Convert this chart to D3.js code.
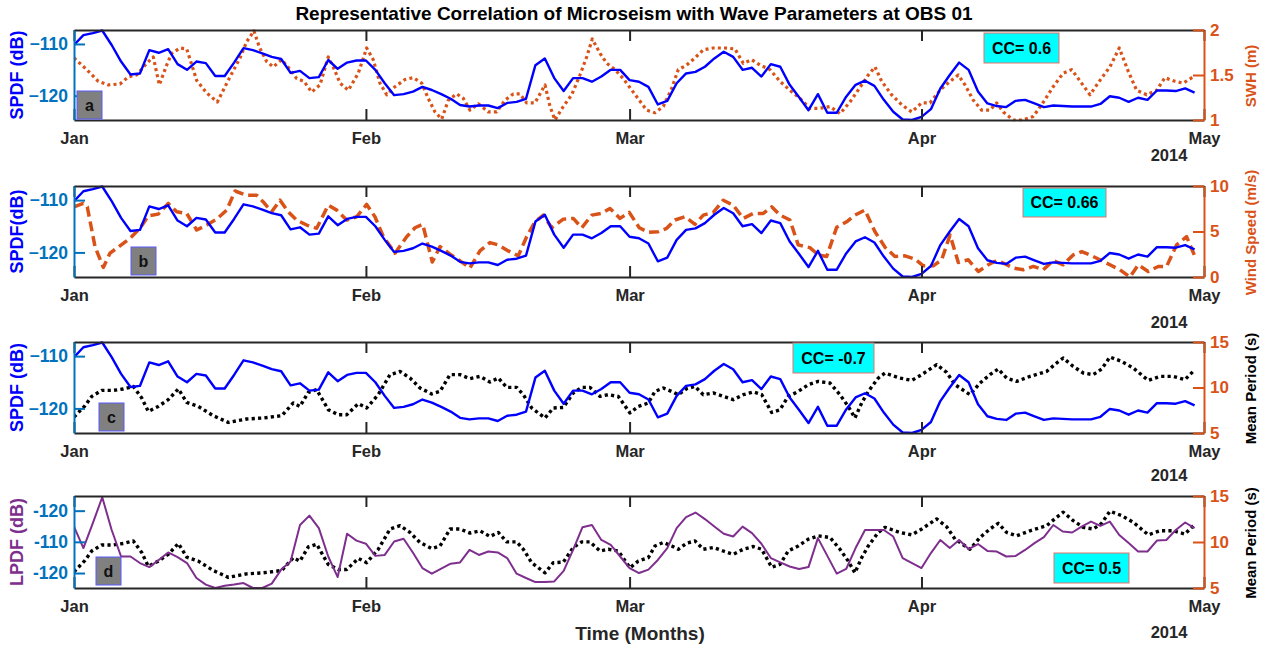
<!DOCTYPE html>
<html><head><meta charset="utf-8">
<script src="https://cdn.jsdelivr.net/npm/d3@7"></script>
<style>
body{margin:0;background:#fff;}
svg{font-family:"Liberation Sans",Arial,Helvetica,sans-serif;}
</style>
</head><body>
<svg id="chart" width="1267" height="650"></svg>
<script>
// ---------- DATA ----------
const monthLabels = ["Jan","Feb","Mar","Apr","May"];
const monthDays = [0, 31, 59, 90, 120];      // days since 1 Jan 2014
const yearLabel = "2014";

// SPDF (dB), daily, day 0..119
const spdf = [
 -110.2,-108.3,-107.9,-107.4,-110.2,-113.4,-115.9,-115.7,-111.2,-111.7,
 -111.0,-113.9,-115.0,-113.4,-113.7,-116.2,-116.2,-113.6,-110.8,-111.2,
 -111.8,-112.5,-112.9,-115.6,-115.2,-116.6,-116.4,-113.1,-114.8,-113.6,
 -113.2,-113.2,-115.0,-117.6,-119.9,-119.7,-119.2,-118.3,-118.9,-119.7,
 -120.6,-121.8,-122.1,-121.9,-121.9,-122.4,-121.4,-121.2,-120.6,-114.1,
 -112.8,-116.6,-119.1,-116.6,-116.6,-117.3,-116.3,-115.0,-115.0,-117.0,
 -117.3,-118.3,-121.7,-121.0,-117.6,-115.7,-115.4,-114.4,-112.8,-111.5,
 -112.5,-115.0,-114.6,-116.3,-113.9,-114.4,-117.9,-120.3,-122.8,-119.7,
 -123.3,-123.3,-120.2,-117.9,-117.1,-118.1,-120.8,-123.1,-124.6,-124.7,
 -124.1,-122.6,-118.6,-116.0,-113.6,-115.0,-119.2,-121.5,-122.0,-122.2,
 -121.0,-120.8,-121.5,-122.2,-121.9,-122.0,-122.1,-122.1,-122.1,-121.6,
 -120.1,-120.4,-121.2,-120.4,-120.8,-119.0,-119.0,-119.1,-118.6,-119.4
];

// LPDF (dB), daily, day 0..119
const lpdf = [
 -105.1,-112.0,-104.0,-95.7,-106.2,-114.7,-114.7,-116.8,-118.1,-115.8,
 -113.4,-114.9,-116.8,-121.6,-123.7,-124.8,-124.1,-123.7,-123.2,-124.8,
 -124.8,-123.4,-118.9,-116.3,-104.6,-101.6,-105.6,-114.7,-121.3,-107.4,
 -109.6,-110.6,-114.5,-114.2,-109.9,-109.0,-113.5,-118.4,-120.2,-118.6,
 -117.0,-116.6,-112.6,-114.2,-113.1,-113.4,-115.2,-120.2,-121.6,-122.9,
 -122.9,-122.7,-119.3,-112.6,-105.3,-104.6,-109.4,-111.0,-114.7,-118.4,
 -120.0,-118.9,-115.8,-112.0,-105.6,-102.1,-100.6,-102.7,-105.1,-107.4,
 -108.3,-105.1,-107.2,-110.6,-115.2,-116.6,-117.9,-118.7,-118.1,-108.8,
 -114.5,-120.2,-118.7,-112.0,-106.2,-106.2,-106.2,-108.3,-115.2,-116.8,
 -118.4,-113.6,-109.4,-112.0,-109.4,-112.3,-110.7,-112.9,-113.1,-114.7,
 -114.5,-112.6,-110.4,-108.5,-104.6,-106.7,-107.0,-105.1,-103.5,-104.9,
 -103.5,-107.8,-110.4,-113.1,-113.1,-109.6,-109.4,-106.2,-103.8,-105.6
];

// Significant wave height (m)
const swhDay = [0,1.35,2.58,3.64,4.88,5.77,6.66,7.72,8.42,9.06,9.84,10.37,11.26,11.97,13.03,14.09,15.22,16.57,17.63,18.34,19.11,19.68,20.46,21.16,22.06,22.94,23.65,24.42,25.24,26.12,27.0,27.53,28.25,29.13,30.19,31.08,31.78,32.49,33.21,34.09,35.15,36.03,36.92,37.62,38.33,39.05,39.75,40.64,41.34,42.05,42.93,44.0,44.89,45.77,46.65,47.36,48.07,48.95,50.02,50.55,51.08,51.96,52.85,53.73,54.44,55.04,55.86,56.57,57.45,58.33,59.39,60.81,61.7,62.58,63.47,64.17,65.06,65.94,66.83,67.89,69.13,70.19,71.07,71.97,72.85,73.91,74.97,76.03,77.09,78.15,79.22,80.28,81.34,82.4,83.65,84.35,85.06,85.77,86.83,87.89,88.96,90.02,90.9,91.96,93.03,93.91,94.62,95.5,96.39,97.27,97.98,98.68,99.74,100.81,101.87,102.76,103.99,105.05,105.95,106.65,107.89,108.95,110.01,111.0,111.96,112.85,113.91,114.97,115.85,116.91,117.8,118.86];
const swhVal = [1.69,1.56,1.43,1.39,1.40,1.48,1.50,1.63,1.70,1.39,1.61,1.74,1.80,1.79,1.44,1.30,1.20,1.48,1.69,1.87,1.99,1.81,1.65,1.59,1.67,1.56,1.46,1.43,1.31,1.39,1.70,1.59,1.41,1.33,1.52,1.80,1.67,1.41,1.28,1.37,1.45,1.47,1.41,1.24,1.09,1.01,1.22,1.29,1.24,1.11,1.18,1.09,1.09,1.22,1.29,1.29,1.19,1.19,1.39,1.15,1.00,1.15,1.28,1.50,1.70,1.90,1.74,1.63,1.56,1.46,1.31,1.11,1.08,1.15,1.35,1.56,1.61,1.69,1.78,1.80,1.80,1.79,1.63,1.67,1.61,1.56,1.43,1.33,1.24,1.13,1.13,1.15,1.07,1.20,1.39,1.50,1.59,1.43,1.28,1.17,1.09,1.19,1.19,1.33,1.43,1.50,1.39,1.22,1.11,1.11,1.19,1.09,1.00,1.00,1.04,1.17,1.37,1.52,1.56,1.46,1.28,1.44,1.59,1.80,1.54,1.33,1.28,1.33,1.47,1.43,1.41,1.48];

// Wind speed (m/s)
const windDay = [0,0.99,1.41,2.23,3.11,3.82,4.88,5.95,7.01,7.89,8.95,10.01,10.91,11.97,13.03,14.09,15.15,16.22,17.1,18.34,19.4,20.1,20.99,21.88,22.76,23.65,24.71,25.77,27.0,27.9,28.96,30.02,31.08,31.96,32.85,34.09,35.33,36.21,37.03,38.05,38.87,39.93,40.99,42.05,43.11,44.17,45.06,46.12,47.18,48.07,48.95,49.84,50.73,51.96,53.02,53.92,54.98,56.04,56.92,57.98,58.97,60.03,60.99,62.05,62.94,63.82,64.89,65.95,66.83,67.89,68.95,70.01,71.07,72.14,73.2,74.09,74.97,76.03,76.91,78.15,79.04,79.93,80.99,82.05,82.93,83.99,85.06,86.12,87.18,88.24,89.3,90.19,91.25,92.14,93.03,93.91,94.97,96.03,97.09,97.98,98.86,99.74,100.81,101.87,102.93,103.99,105.05,106.11,107.01,107.89,108.95,110.01,111.07,112.13,113.02,114.08,115.14,116.03,117.09,118.15,119.04];
const windVal = [7.71,8.08,7.71,3.34,1.05,2.62,3.42,4.26,5.35,6.72,6.91,8.08,7.16,6.99,5.16,5.71,6.36,7.35,9.45,8.98,8.98,8.25,7.16,8.44,7.16,6.26,5.71,5.35,7.89,7.35,6.26,6.62,7.97,6.62,4.43,2.62,4.43,5.41,5.79,1.64,3.34,2.51,1.78,0.98,2.87,3.78,3.53,2.87,2.33,4.43,6.07,6.80,5.41,6.36,6.44,5.41,6.80,6.99,7.53,6.44,7.10,5.41,4.91,4.98,5.35,6.26,6.62,5.79,6.80,7.10,8.44,7.89,6.44,6.99,6.99,7.71,6.80,6.26,3.53,3.23,2.43,2.25,5.46,6.07,6.80,7.35,4.98,3.28,2.25,2.33,1.97,1.23,1.23,1.89,4.62,1.59,1.89,0.61,1.34,1.81,1.45,0.98,0.80,1.16,0.80,1.81,1.34,2.43,2.79,2.43,1.89,1.34,0.80,0.00,1.34,0.61,1.16,1.16,3.53,4.43,2.25];

// Mean wave period (s)
const periodDay = [0,1.17,1.88,2.94,4.17,5.24,6.3,7.19,7.89,8.95,10.01,11.08,11.97,13.2,14.79,16.39,18.34,20.1,22.06,23.29,24.0,24.88,25.77,27.0,28.07,28.96,30.19,31.08,32.31,33.56,34.62,35.68,36.74,37.98,38.87,39.93,40.99,42.05,43.11,44.17,45.06,45.95,47.01,47.72,48.6,50.02,50.9,51.96,53.02,53.92,54.8,55.86,56.74,57.8,59.04,59.92,60.99,61.7,62.58,63.47,64.17,65.06,65.94,66.83,67.89,68.95,70.01,71.07,72.14,73.03,74.09,74.97,75.85,76.91,77.98,79.04,80.28,81.34,82.22,82.93,83.65,84.35,85.41,86.12,87.71,88.96,90.02,91.61,92.67,93.56,95.15,96.21,97.27,98.15,99.04,100.1,101.52,103.29,104.35,105.05,106.11,107.18,108.24,109.13,110.01,111.25,112.49,114.08,115.32,116.73,117.97,119.04];
const periodVal = [6.76,8.0,9.02,9.68,9.68,9.84,10.12,8.85,7.37,7.92,8.66,9.84,8.36,7.92,6.90,6.16,6.54,6.65,6.90,8.30,7.92,9.46,9.76,7.56,7.01,7.01,8.22,7.75,9.21,11.41,11.77,11.04,9.95,9.29,9.57,11.41,11.41,10.97,11.22,10.6,11.04,10.01,10.01,9.21,7.75,6.65,7.75,7.81,9.40,10.01,10.01,9.02,9.21,9.02,7.20,7.92,8.30,9.57,9.95,9.57,9.21,9.87,10.12,9.21,9.40,9.02,8.66,9.21,9.51,9.21,7.26,7.56,9.02,9.57,10.31,10.67,10.49,9.21,7.92,6.65,8.30,9.57,11.04,11.59,11.04,10.78,11.41,12.51,11.66,10.31,9.21,10.49,11.41,12.03,11.04,10.67,11.22,11.77,12.69,13.24,12.32,11.59,11.41,12.03,13.35,12.87,12.14,10.78,11.22,11.22,10.86,11.96];

// Axis ticks / labels
const spdfTicks = [-120, -110];
const lpdfTicks = [-120, -110, -100];
const lpdfTickLabels = ["-120", "-110", "-120"];
const swhTicks = [1, 1.5, 2];
const windTicks = [0, 5, 10];
const periodTicks = [5, 10, 15];
const ccLabels = ["CC= 0.6", "CC= 0.66", "CC= -0.7", "CC= 0.5"];
const panelLetters = ["a", "b", "c", "d"];

// ---------- LAYOUT ----------
const xL = 74, xR = 1204;
const C = {blue:"#0000FF", axBlue:"#0072BD", orange:"#D95319", purple:"#7E2F8E", dark:"#262626"};
const FONT = '"Liberation Sans",Arial,sans-serif';

const days = d3.range(spdf.length);
const panels = [
  {top:30, bottom:120, left:{vals:spdf, days:days, dom:[-124.7,-107.3], color:C.blue, label:"SPDF (dB)", ticks:spdfTicks},
   right:{days:swhDay, vals:swhVal, dom:[1,2], ticks:swhTicks, label:"SWH (m)", labelColor:C.orange,
          color:C.orange, dash:"3,3.2", width:3.2},
   letterX:77, cc:{x:984,y:33,w:75,h:30}, yearY:155},
  {top:186, bottom:277, left:{vals:spdf, days:days, dom:[-124.7,-107.3], color:C.blue, label:"SPDF(dB)", ticks:spdfTicks},
   right:{days:windDay, vals:windVal, dom:[0,10], ticks:windTicks, label:"Wind Speed (m/s)", labelColor:C.orange,
          color:C.orange, dash:"10,5", width:3.5},
   letterX:131, cc:{x:1023,y:188,w:83,h:29}, yearY:322},
  {top:342, bottom:433, left:{vals:spdf, days:days, dom:[-124.7,-107.3], color:C.blue, label:"SPDF (dB)", ticks:spdfTicks},
   right:{days:periodDay, vals:periodVal, dom:[5,15], ticks:periodTicks, label:"Mean Period (s)", labelColor:"#000",
          color:"#000", dash:"3.2,3.2", width:3.4},
   letterX:99, cc:{x:793,y:343,w:81,h:30}, yearY:475},
  {top:496, bottom:588, left:{vals:lpdf, days:days, dom:[-124.8,-95.3], color:C.purple, label:"LPDF (dB)", ticks:lpdfTicks, tickLabels:lpdfTickLabels, lineW:2},
   right:{days:periodDay, vals:periodVal, dom:[5,15], ticks:periodTicks, label:"Mean Period (s)", labelColor:"#000",
          color:"#000", dash:"3.2,3.2", width:3.4},
   letterX:96, cc:{x:1054,y:553,w:75,h:30}, yearY:632}
];

const svg = d3.select("#chart");
const x = d3.scaleLinear().domain([0, 120]).range([xL, xR]);

// title
svg.append("text").attr("x", 634).attr("y", 13).attr("text-anchor","middle").attr("dominant-baseline","central")
  .attr("font-size", 19).attr("font-weight","bold").attr("fill","#000")
  .text("Representative Correlation of Microseism with Wave Parameters at OBS 01");

panels.forEach((p, i) => {
  const g = svg.append("g");
  const yL = d3.scaleLinear().domain(p.left.dom).range([p.bottom, p.top]);
  const yR = d3.scaleLinear().domain(p.right.dom).range([p.bottom, p.top]);

  const clipId = "clip" + i;
  svg.append("defs").append("clipPath").attr("id", clipId)
    .append("rect").attr("x", xL).attr("y", p.top - 1.5).attr("width", xR - xL).attr("height", p.bottom - p.top + 3);

  // right-axis series (drawn first)
  const lineR = d3.line().x((d, k) => x(p.right.days[k])).y(d => yR(d));
  g.append("path").datum(p.right.vals).attr("d", lineR).attr("clip-path", `url(#${clipId})`)
    .attr("fill","none").attr("stroke", p.right.color).attr("stroke-width", p.right.width)
    .attr("stroke-dasharray", p.right.dash).attr("stroke-linejoin","round");

  // left-axis series
  const lineL = d3.line().x((d, k) => x(p.left.days[k])).y(d => yL(d));
  g.append("path").datum(p.left.vals).attr("d", lineL).attr("clip-path", `url(#${clipId})`)
    .attr("fill","none").attr("stroke", p.left.color).attr("stroke-width", p.left.lineW || 2.4)
    .attr("stroke-linejoin","round");

  // x axes (bottom with labels, top without) – inward ticks
  const xb = g.append("g").attr("transform", `translate(0,${p.bottom})`)
    .call(d3.axisBottom(x).tickValues(monthDays).tickFormat((d, k) => monthLabels[k]).tickSize(-11).tickSizeOuter(0).tickPadding(12));
  const xt = g.append("g").attr("transform", `translate(0,${p.top})`)
    .call(d3.axisTop(x).tickValues(monthDays).tickFormat("").tickSize(-11).tickSizeOuter(0));
  [xb, xt].forEach(a => {
    a.select(".domain").attr("stroke", C.dark).attr("stroke-width", 2);
    a.selectAll(".tick line").attr("stroke", C.dark).attr("stroke-width", 2);
  });
  xb.selectAll(".tick text").attr("font-size", 16.5).attr("font-weight","bold").attr("fill", C.dark)
    .attr("font-family", FONT);

  // year label
  g.append("text").attr("x", 1169).attr("y", p.yearY).attr("text-anchor","middle").attr("dominant-baseline","central")
    .attr("font-size", 16.5).attr("font-weight","bold").attr("fill", C.dark).text(yearLabel);

  // left y axis
  const ya = g.append("g").attr("transform", `translate(${xL},0)`)
    .call(d3.axisLeft(yL).tickValues(p.left.ticks)
      .tickFormat((d, k) => p.left.tickLabels ? p.left.tickLabels[k] : d3.format("")(d))
      .tickSize(-11).tickSizeOuter(0).tickPadding(6));
  ya.select(".domain").attr("stroke", C.axBlue).attr("stroke-width", 2);
  ya.selectAll(".tick line").attr("stroke", C.axBlue).attr("stroke-width", 2);
  ya.selectAll(".tick text").attr("font-size", 17.5).attr("font-weight","bold").attr("fill", C.axBlue)
    .attr("font-family", FONT);

  // right y axis
  const yr = g.append("g").attr("transform", `translate(${xR},0)`)
    .call(d3.axisRight(yR).tickValues(p.right.ticks).tickFormat(d3.format("")).tickSize(-11).tickSizeOuter(0).tickPadding(6));
  yr.select(".domain").attr("stroke", C.orange).attr("stroke-width", 2);
  yr.selectAll(".tick line").attr("stroke", C.orange).attr("stroke-width", 2);
  yr.selectAll(".tick text").attr("font-size", 17).attr("font-weight","bold").attr("fill", C.orange)
    .attr("font-family", FONT);

  // y labels
  const cy = (p.top + p.bottom) / 2;
  g.append("text").attr("transform", `translate(17,${cy}) rotate(-90)`).attr("text-anchor","middle")
    .attr("dominant-baseline","central").attr("font-size", 18).attr("font-weight","bold")
    .attr("fill", p.left.color).text(p.left.label);
  g.append("text").attr("transform", `translate(1250,${cy + 1}) rotate(-90)`).attr("text-anchor","middle")
    .attr("dominant-baseline","central").attr("font-size", 15).attr("font-weight","bold")
    .attr("fill", p.right.labelColor).text(p.right.label);

  // panel letter box
  g.append("rect").attr("x", p.letterX).attr("y", p.top + 61).attr("width", 25).attr("height", 28)
    .attr("fill", "#808080").attr("stroke", "#5a5aff").attr("stroke-width", 1);
  g.append("text").attr("x", p.letterX + 12.5).attr("y", p.top + 75).attr("text-anchor","middle")
    .attr("dominant-baseline","central").attr("font-size", 16).attr("font-weight","bold").attr("fill","#111")
    .text(panelLetters[i]);

  // CC box
  g.append("rect").attr("x", p.cc.x).attr("y", p.cc.y).attr("width", p.cc.w).attr("height", p.cc.h)
    .attr("fill", "#00FFFF").attr("stroke", "#E8706A").attr("stroke-width", 1);
  g.append("text").attr("x", p.cc.x + p.cc.w / 2).attr("y", p.cc.y + p.cc.h / 2).attr("text-anchor","middle")
    .attr("dominant-baseline","central").attr("font-size", 16).attr("font-weight","bold").attr("fill","#000")
    .text(ccLabels[i]);
});

// x-axis title
svg.append("text").attr("x", 640).attr("y", 633).attr("text-anchor","middle").attr("dominant-baseline","central")
  .attr("font-size", 19).attr("font-weight","bold").attr("fill", C.dark).text("Time (Months)");
</script>
</body></html>
